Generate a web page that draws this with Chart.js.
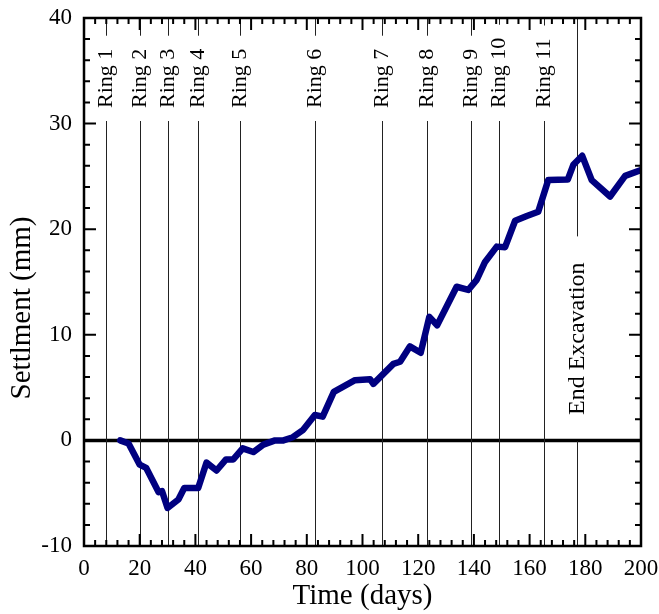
<!DOCTYPE html>
<html>
<head>
<meta charset="utf-8">
<script src="https://cdn.jsdelivr.net/npm/chart.js@4.4.1/dist/chart.umd.min.js"></script>
<style>
  html, body { margin: 0; padding: 0; background: #fff; }
</style>
</head>
<body>
<canvas id="chart" width="659" height="614"></canvas>
<script>
// settlement record over the excavation
const days = [13, 16, 20, 22.3, 26.8, 28, 30, 33.9, 36, 41, 44, 47.6, 51, 53.6, 57, 60.8, 64.4, 68.6, 71.6, 75, 78.7,
  82.9, 85.7, 89.7, 93.1, 97.3, 102.7, 103.9, 107.5, 111.1, 113.5, 117, 120.9, 124, 126.8, 133.8, 138, 141, 144,
  148.2, 151.2, 154.8, 159, 163.1, 166.7, 173.7, 175.7, 178.9, 182.3, 188.9, 194.3, 200];
const settlement = [0, -0.3, -2.3, -2.6, -4.9, -4.8, -6.4, -5.6, -4.5, -4.5, -2.1, -2.85, -1.8, -1.8, -0.75, -1.1, -0.4, 0, 0, 0.3, 1.0,
  2.4, 2.25, 4.6, 5.1, 5.7, 5.8, 5.35, 6.3, 7.25, 7.45, 8.9, 8.3, 11.7, 10.9, 14.55, 14.25, 15.2, 16.9,
  18.35, 18.3, 20.8, 21.25, 21.65, 24.65, 24.7, 26.1, 26.95, 24.65, 23.1, 25.05, 25.6];

// ring installation days and end of excavation
const markerDays = [8, 20, 30, 41, 56, 83, 107, 123, 139, 149, 165, 177];
const markerLabels = ['Ring 1', 'Ring 2', 'Ring 3', 'Ring 4', 'Ring 5', 'Ring 6', 'Ring 7', 'Ring 8', 'Ring 9', 'Ring 10', 'Ring 11', 'End Excavation'];

const xRange = [0, 200];
const yRange = [-10, 40];
const xStep = 20, xMinor = 4;
const yStep = 10, yMinor = 2;

const serif = '"Liberation Serif", "Times New Roman", serif';

const frame = {
  id: 'frame',
  beforeDatasetsDraw(chart) {
    const { ctx, chartArea: a, scales: { x, y } } = chart;
    ctx.save();
    // zero line
    const y0 = y.getPixelForValue(0);
    ctx.strokeStyle = '#000';
    ctx.lineWidth = 3.5;
    ctx.beginPath();
    ctx.moveTo(a.left, y0);
    ctx.lineTo(a.right, y0);
    ctx.stroke();

    markerDays.forEach((d, i) => {
      const px = Math.round(x.getPixelForValue(d)) + 0.5;
      const last = i === markerDays.length - 1;
      const size = last ? 24 : 22;
      const base = last ? a.top + 397 : a.top + 90;
      const pad = last ? 26 : 13;
      ctx.font = size + 'px ' + serif;
      const w = ctx.measureText(markerLabels[i]).width;
      ctx.strokeStyle = '#222';
      ctx.lineWidth = 1;
      ctx.beginPath();
      ctx.moveTo(px, a.bottom);
      ctx.lineTo(px, base + pad);
      ctx.moveTo(px, base - w - pad);
      ctx.lineTo(px, a.top);
      ctx.stroke();
      ctx.save();
      ctx.translate(px, base);
      ctx.rotate(-Math.PI / 2);
      ctx.fillStyle = '#000';
      ctx.textAlign = 'left';
      ctx.textBaseline = 'middle';
      ctx.fillText(markerLabels[i], 0, 0);
      ctx.restore();
    });

    // y axis title
    ctx.save();
    ctx.translate(22, a.top + 290);
    ctx.rotate(-Math.PI / 2);
    ctx.font = '29px ' + serif;
    ctx.fillStyle = '#000';
    ctx.textAlign = 'center';
    ctx.textBaseline = 'middle';
    ctx.fillText('Settlment (mm)', 0, 0);
    ctx.restore();
    ctx.restore();
  },
  afterDraw(chart) {
    const { ctx, chartArea: a, scales: { x, y } } = chart;
    ctx.save();
    ctx.strokeStyle = '#000';
    ctx.lineWidth = 2;
    ctx.beginPath();
    for (let v = xRange[0]; v <= xRange[1]; v += xMinor) {
      const px = x.getPixelForValue(v);
      const len = v % xStep === 0 ? 12 : 6;
      ctx.moveTo(px, a.bottom); ctx.lineTo(px, a.bottom - len);
      ctx.moveTo(px, a.top); ctx.lineTo(px, a.top + len);
    }
    for (let v = yRange[0]; v <= yRange[1]; v += yMinor) {
      const py = y.getPixelForValue(v);
      const len = v % yStep === 0 ? 12 : 6;
      ctx.moveTo(a.left, py); ctx.lineTo(a.left + len, py);
      ctx.moveTo(a.right, py); ctx.lineTo(a.right - len, py);
    }
    ctx.stroke();
    ctx.lineWidth = 2.5;
    ctx.strokeRect(a.left, a.top, a.right - a.left, a.bottom - a.top);
    ctx.restore();
  }
};

new Chart(document.getElementById('chart'), {
  type: 'line',
  data: {
    datasets: [{
      data: days.map((d, i) => ({ x: d, y: settlement[i] })),
      borderColor: '#000080',
      borderWidth: 6.5,
      borderJoinStyle: 'round',
      borderCapStyle: 'round',
      pointRadius: 0,
      tension: 0
    }]
  },
  options: {
    responsive: false,
    animation: false,
    layout: { padding: { top: 18, right: 18, left: 0, bottom: 0 } },
    plugins: { legend: { display: false }, tooltip: { enabled: false } },
    scales: {
      x: {
        type: 'linear',
        min: xRange[0],
        max: xRange[1],
        grid: { display: false, drawTicks: false },
        border: { display: false },
        ticks: { stepSize: xStep, color: '#000', font: { family: serif, size: 23 }, padding: 9, maxRotation: 0 },
        title: { display: true, text: 'Time (days)', color: '#000', font: { family: serif, size: 29 }, padding: 0 },
        afterFit(s) { s.height = 68; s.paddingLeft = 0; s.paddingRight = 0; }
      },
      y: {
        min: yRange[0],
        max: yRange[1],
        grid: { display: false, drawTicks: false },
        border: { display: false },
        ticks: { stepSize: yStep, color: '#000', font: { family: serif, size: 23 }, padding: 12 },
        afterFit(s) { s.width = 84; s.paddingTop = 0; s.paddingBottom = 0; }
      }
    }
  },
  plugins: [frame]
});
</script>
</body>
</html>
